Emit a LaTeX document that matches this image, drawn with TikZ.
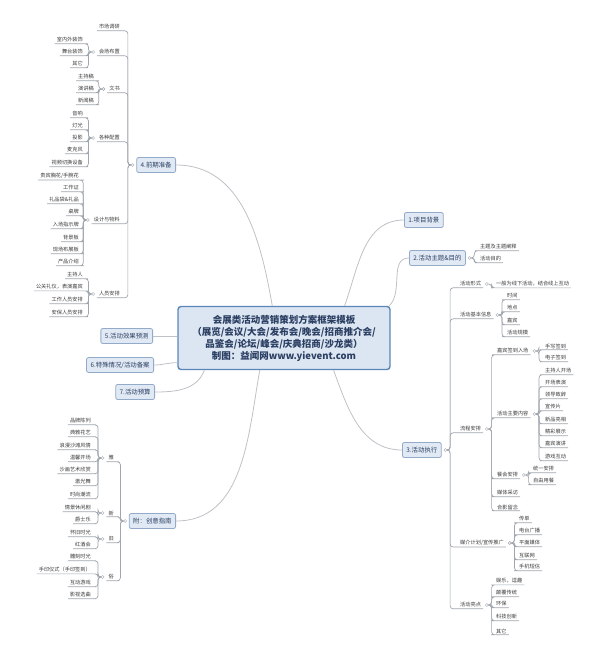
\documentclass[tikz,border=0pt]{standalone}
\usepackage{fontspec}
\setmainfont{Noto Sans CJK SC}
\usetikzlibrary{positioning}
\definecolor{cBox}{HTML}{DCE6F2}
\definecolor{cEdge}{HTML}{5B86BA}
\definecolor{cSub}{HTML}{E1E9F4}
\definecolor{cSubE}{HTML}{93AAC9}
\definecolor{cInk}{HTML}{2B3F63}
\definecolor{cTxt}{HTML}{3A3A3A}
\definecolor{cLn}{HTML}{A0A6AE}
\definecolor{cArc}{HTML}{BEC2C6}
\tikzset{topic/.style={
  shape=rectangle,
  rounded corners=3pt,
  draw=cEdge,
  line width=1.4pt,
  fill=cBox,
  minimum width=212pt,
  minimum height=63pt,
  align=center,
  text=cInk,
  font=\bfseries\fontsize{9.5}{12}\selectfont,
  }
}
\tikzset{mainbox/.style={
  shape=rectangle,
  rounded corners=2pt,
  draw=cSubE,
  line width=0.8pt,
  fill=cSub,
  minimum height=15pt,
  inner xsep=4pt,
  text=cInk,
  font=\fontsize{6.4}{7}\selectfont,
  }
}
\tikzset{leafL/.style={anchor=east, inner xsep=2pt, inner ysep=1.2pt, text=cTxt, font=\fontsize{5.2}{6}\selectfont}}
\tikzset{leafR/.style={anchor=west, inner xsep=2pt, inner ysep=1.2pt, text=cTxt, font=\fontsize{5.2}{6}\selectfont}}
\tikzset{knob/.style={circle, draw=cLn, fill=white, line width=0.4pt, inner sep=0pt, minimum size=3pt}}
\tikzset{twig/.style={draw=cLn, line width=0.7pt, rounded corners=3pt}}
\tikzset{bough/.style={draw=cArc, line width=0.8pt}}

\begin{document}
\begin{tikzpicture}[x=1pt,y=-1pt]
  \useasboundingbox (0,0) rectangle (609,658);

  % centre and main topics
  \node[topic] (ctr) at (284,338) {会展类活动营销策划方案框架模板\\（展览/会议/大会/发布会/晚会/招商推介会/\\品鉴会/论坛/峰会/庆典招商/沙龙类）\\制图：益闻网www.yievent.com};
  \node[mainbox, anchor=west] (p1) at (404,220) {1.项目背景};
  \node[mainbox, anchor=west] (p2) at (409,258) {2.活动主题\&目的};
  \node[mainbox, anchor=west] (p3) at (402,450) {3.活动执行};
  \node[mainbox, anchor=east] (p4) at (176,165) {4.前期准备};
  \node[mainbox, anchor=east] (p5) at (153,336) {5.活动效果预测};
  \node[mainbox, anchor=east] (p6) at (154,365) {6.特殊情况/活动备案};
  \node[mainbox, anchor=east] (p7) at (155,392) {7.活动预算};
  \node[mainbox, anchor=east] (px) at (176,521) {附：创意指南};

  \draw[bough] (p4.east) to[out=0,in=100] (ctr.110);
  \draw[bough] (ctr.28) to[out=70,in=180] (p1.west);
  \draw[bough] (ctr.17) to[out=45,in=180] (p2.west);
  \draw[bough] (ctr.327) to[out=-70,in=180] (p3.west);
  \draw[bough] (p5.east) -- (p5.east -| ctr.west);
  \draw[bough] (p6.east) to[out=0,in=180] (ctr.193);
  \draw[bough] (p7.east) to[out=0,in=-110] (ctr.202);
  \draw[bough] (ctr.233) to[out=-100,in=0] (px.east);

  % 4 前期准备
  \node[knob, left=2pt of p4] (k4) {};
  \foreach \t/\y/\n in {市场调研/27/a1, 会场布置/52/a2, 文书/89/a3, 各种配置/138/a4, 设计与物料/220/a5, 人员安排/294/a6}
    \node[leafL] (\n) at (122,\y) {\t};
  \foreach \n in {a1,a2,a3,a4,a5,a6}
    \draw[twig] (k4.west) -- ++(-3,0) |- (\n.south east) -- (\n.south west);
  \foreach \n in {a2,a3,a4,a5,a6}
    \node[knob, left=2pt of \n] (k\n) {};

  \foreach \t/\y [count=\i] in {室内外装饰/40, 舞台装饰/52, 其它/64}
    \node[leafL] (b2\i) at (85,\y) {\t};
  \foreach \t/\y [count=\i] in {主持稿/77, 演讲稿/89, 新闻稿/101}
    \node[leafL] (b3\i) at (96,\y) {\t};
  \foreach \t/\y [count=\i] in {音响/114, 灯光/126, 投影/138, 麦克风/150, 视频切换设备/163}
    \node[leafL] (b4\i) at (85,\y) {\t};
  \foreach \t/\y [count=\i] in {{贵宾胸花/手腕花}/176, 工作证/188, 礼品袋\&礼品/200, 桌牌/212, 入场指示牌/225, 背景板/238, 现场布展板/250, 产品介绍/262}
    \node[leafL] (b5\i) at (81,\y) {\t};
  \foreach \t/\y [count=\i] in {主持人/275, 公关礼仪，表演嘉宾/287, 工作人员安排/300, 安保人员安排/313}
    \node[leafL] (b6\i) at (85,\y) {\t};
  \foreach \g/\m in {2/3, 3/3, 4/5, 5/8, 6/4}
    \foreach \i in {1,...,\m}
      \draw[twig] (ka\g.west) -- ++(-3,0) |- (b\g\i.south east) -- (b\g\i.south west);

  % 2 活动主题&目的
  \node[knob, right=2pt of p2] (k2) {};
  \foreach \t/\y [count=\i] in {主题及主题阐释/247, 活动目的/259}
    \node[leafR] (c\i) at (478,\y) {\t};
  \foreach \i in {1,2}
    \draw[twig] (k2.east) -- ++(3,0) |- (c\i.south west) -- (c\i.south east);

  % 3 活动执行
  \node[knob, right=2pt of p3] (k3) {};
  \foreach \t/\y/\n in {活动形式/284/d1, 活动基本信息/315/d2, 流程安排/429/d3, {媒介计划/宣传推广}/543/d4, 活动亮点/605/d5}
    \node[leafR] (\n) at (458,\y) {\t};
  \foreach \n in {d1,d2,d3,d4,d5} {
    \draw[twig] (k3.east) -- ++(3,0) |- (\n.south west) -- (\n.south east);
    \node[knob, right=2pt of \n] (k\n) {};
  }

  \node[leafR] (f11) at (494,284) {一般为线下活动，结合线上互动};
  \foreach \t/\y [count=\i] in {时间/296, 地点/308, 嘉宾/321, 活动规模/333}
    \node[leafR] (f2\i) at (505,\y) {\t};
  \foreach \t/\y [count=\i] in {嘉宾签到入场/351, 活动主要内容/414, 餐会安排/475, 媒体采访/493, 合影留念/507}
    \node[leafR] (f3\i) at (495,\y) {\t};
  \foreach \t/\y [count=\i] in {传单/519, 电台广播/531, 平面媒体/543, 互联网/556, 手机短信/567}
    \node[leafR] (f4\i) at (517,\y) {\t};
  \foreach \t/\y [count=\i] in {娱乐，逗趣/581, 颠覆传统/593, 环保/604, 科技创新/617, 其它/631}
    \node[leafR] (f5\i) at (494,\y) {\t};
  \foreach \g/\m in {1/1, 2/4, 3/5, 4/5, 5/5}
    \foreach \i in {1,...,\m}
      \draw[twig] (kd\g.east) -- ++(3,0) |- (f\g\i.south west) -- (f\g\i.south east);

  % 流程安排 sub-branches
  \foreach \n in {f31,f32,f33}
    \node[knob, right=2pt of \n] (k\n) {};
  \foreach \t/\y [count=\i] in {手写签到/346, 电子签到/358}
    \node[leafR] (h1\i) at (543,\y) {\t};
  \foreach \t/\y [count=\i] in {主持人开场/371, 开场表演/383, 领导致辞/395, 宣传片/407, 新品亮相/420, 精彩展示/432, 嘉宾演讲/444, 游戏互动/457}
    \node[leafR] (h2\i) at (543,\y) {\t};
  \foreach \t/\y [count=\i] in {统一安排/469, 自由用餐/481}
    \node[leafR] (h3\i) at (531,\y) {\t};
  \foreach \g/\m in {1/2, 2/8, 3/2}
    \foreach \i in {1,...,\m}
      \draw[twig] (kf3\g.east) -- ++(3,0) |- (h\g\i.south west) -- (h\g\i.south east);

  % 附 创意指南
  \node[knob, left=2pt of px] (kx) {};
  \foreach \t/\y/\n in {雅/458/g1, 新/513/g2, 旧/539/g3, 俗/577/g4}
    \node[leafL] (\n) at (116,\y) {\t};
  \foreach \n in {g1,g2,g3,g4} {
    \draw[twig] (kx.west) -- ++(-3,0) |- (\n.south east) -- (\n.south west);
    \node[knob, left=2pt of \n] (k\n) {};
  }
  \foreach \t/\y [count=\i] in {品牌陈列/421, 典雅花艺/433, 浪漫沙滩风情/446, 温馨开场/458, 沙画艺术欣赏/470, 激光舞/482, 时尚潮流/495}
    \node[leafL] (r1\i) at (93,\y) {\t};
  \foreach \t/\y [count=\i] in {情景休闲剧/508, 爵士乐/520}
    \node[leafL] (r2\i) at (93,\y) {\t};
  \foreach \t/\y [count=\i] in {怀旧时光/533, 红酒会/545}
    \node[leafL] (r3\i) at (93,\y) {\t};
  \foreach \t/\y [count=\i] in {雕刻时光/557, 手印仪式（手印签到）/570, 互动游戏/583, 影视选曲/595}
    \node[leafL] (r4\i) at (93,\y) {\t};
  \foreach \g/\m in {1/7, 2/2, 3/2, 4/4}
    \foreach \i in {1,...,\m}
      \draw[twig] (kg\g.west) -- ++(-3,0) |- (r\g\i.south east) -- (r\g\i.south west);
\end{tikzpicture}
\end{document}
